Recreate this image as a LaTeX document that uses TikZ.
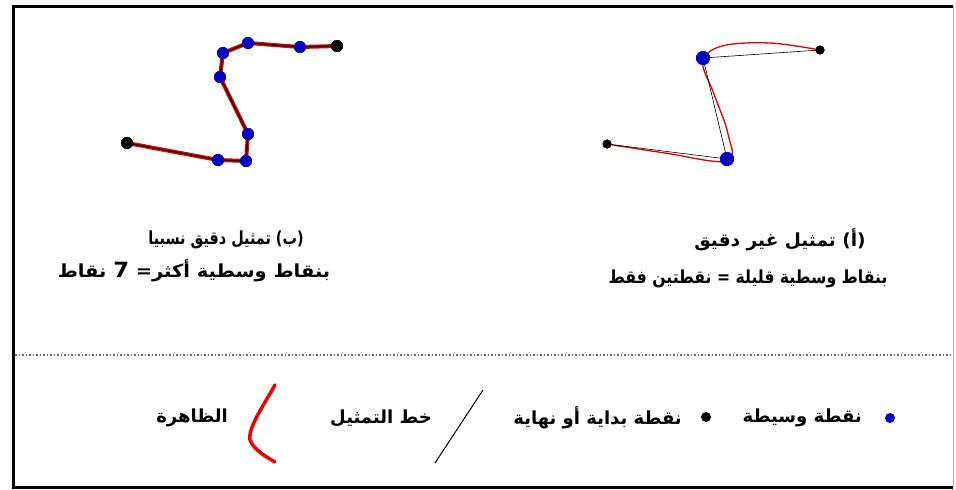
\documentclass[tikz,border=0pt]{standalone}
\usepackage{fontspec}
\newfontfamily\arabicfont[Script=Arabic]{DejaVu Sans}
\TeXXeTstate=1
\begin{document}
\begin{tikzpicture}[x=1pt,y=-1pt,
  blue dot/.style={circle,fill=blue!75!black,inner sep=0pt,minimum size=#1},
  black dot/.style={circle,fill=black,inner sep=0pt,minimum size=#1},
  artext/.style={font=\arabicfont\bfseries\fontsize{18}{20}\selectfont,inner sep=0pt},
  phen/.style={draw=red!85!black,line width=#1,line cap=round,line join=round},
  repline/.style={draw=black,line width=#1}]
\useasboundingbox (0,0) rectangle (956,490);
\fill[white] (0,0) rectangle (956,490);
% frame
\coordinate (tl) at (13,6);
\coordinate (tr) at (953,6);
\coordinate (bl) at (13,487);
\coordinate (br) at (953,487);
\draw[line width=3pt] (tr) -- (tl) -- (bl) -- (br);
\draw[gray!60,line width=0.8pt] (tr) -- (br);
% separator
\coordinate (s1) at (15,355);
\coordinate (s2) at (953,355);
\draw[gray!80!black,line width=1.5pt,dotted] (s1) -- (s2);

% ---------- panel (b): 7 intermediate points
\node[black dot=12pt] (b0) at (127,143) {};
\node[blue dot=12pt] (b1) at (218,160) {};
\node[blue dot=12pt] (b2) at (246,161) {};
\node[blue dot=12pt] (b3) at (248,134) {};
\node[blue dot=12pt] (b4) at (220,77) {};
\node[blue dot=12pt] (b5) at (223,53) {};
\node[blue dot=12pt] (b6) at (248,43) {};
\node[blue dot=12pt] (b7) at (300,47) {};
\node[black dot=12pt] (b8) at (337,46) {};
\path[phen=4pt] (b0.center) -- (b1.center) -- (b2.center) -- (b3.center) -- (b4.center) -- (b5.center) -- (b6.center) -- (b7.center) -- (b8.center);
\path[repline=1.2pt] (b0.center) -- (b1.center) -- (b2.center) -- (b3.center) -- (b4.center) -- (b5.center) -- (b6.center) -- (b7.center) -- (b8.center);
\foreach \n in {1,...,7} {\node[blue dot=12pt] at (b\n) {};}
\node[black dot=12pt] at (b0) {};
\node[black dot=12pt] at (b8) {};

% ---------- panel (a): 2 intermediate points
\node[black dot=9pt] (a0) at (607,144) {};
\node[blue dot=14pt] (a1) at (727,159) {};
\node[blue dot=14pt] (a2) at (703,58) {};
\node[black dot=9pt] (a3) at (820,50) {};
\draw[phen=1.3pt] plot[smooth,tension=0.6] coordinates {(607,144) (665,153) (727,161) (728,134) (714,94) (703,62) (722,46) (770,43) (820,50)};
\path[repline=0.6pt] (a0.center) -- (a1.center) -- (a2.center) -- (a3.center);
\node[blue dot=14pt] at (a1) {};
\node[blue dot=14pt] at (a2) {};
\node[black dot=9pt] at (a0) {};
\node[black dot=9pt] at (a3) {};

% ---------- captions
\node[artext] (cb1) at (226,240) {\scalebox{0.8}[1]{\beginR (ب) تمثيل دقيق نسبيا\endR}};
\node[artext] (cb2) at (194,271) {\scalebox{1.08}[1]{\beginR بنقاط وسطية أكثر= {\fontsize{21}{21}\selectfont 7} نقاط\endR}};
\node[artext] (ca1) at (780,240) {\scalebox{1.03}[1]{\beginR (أ) تمثيل غير دقيق\endR}};
\node[artext] (ca2) at (748,279) {\scalebox{0.87}[1]{\beginR بنقاط وسطية قليلة = نقطتين فقط\endR}};

% ---------- legend
\node[blue dot=10pt] (lblue) at (890,418) {};
\node[artext,anchor=east] (tblue) at (862,418) {\beginR نقطة وسيطة\endR};
\node[black dot=10pt] (lblack) at (706,417) {};
\node[artext,anchor=east] (tblack) at (682,418) {\beginR نقطة بداية أو نهاية\endR};
\coordinate (l1) at (435,463);
\coordinate (l2) at (483,390);
\draw[line width=1pt] (l1) -- (l2);
\node[artext,anchor=east] (tline) at (432,418) {\beginR خط التمثيل\endR};
\coordinate (r1) at (275,385);
\coordinate (r2) at (250,440);
\coordinate (r3) at (275,462);
\draw[red!90!black,line width=3.5pt,line cap=round] (r1) .. controls (262,408) and (248,428) .. (r2) .. controls (254,450) and (265,456) .. (r3);
\node[artext,anchor=east] (tphen) at (228,418) {\beginR الظاهرة\endR};
\end{tikzpicture}
\end{document}
